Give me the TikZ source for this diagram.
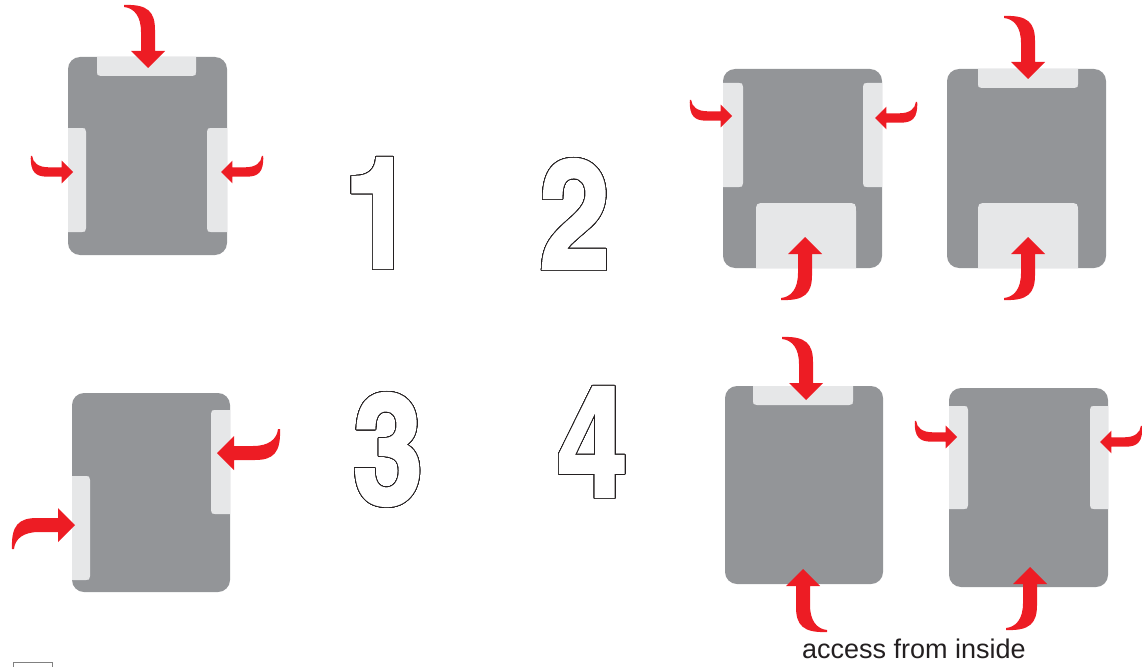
\documentclass[tikz,border=0pt]{standalone}
\usepackage{tikz}
\usepackage{fontspec}
\usepackage{contour}
\contourlength{0.8pt}
\contournumber{48}
\setmainfont{Liberation Sans}
\newfontfamily\digitfont{texgyreheroscn-bold.otf}[FakeBold=1.5]
\definecolor{boxgray}{HTML}{939598}
\definecolor{tabgray}{HTML}{E6E7E8}
\definecolor{arrowred}{HTML}{ED1C24}
\definecolor{inkgray}{HTML}{231F20}
\begin{document}
\begin{tikzpicture}[x=1pt, y=-1pt,
    block/.style={fill=boxgray, rounded corners=12pt},
    tab/.style={fill=tabgray},
    digit/.style={inner sep=0pt, anchor=base, text=white, font=\digitfont\fontsize{155}{155}\selectfont},
    redarrow/.pic={\fill[arrowred] (0,0) -- (-17,-17) -- (-7,-17) -- (-7,-36)
        .. controls (-7,-52) and (-14,-60) .. (-24,-61) -- (-24,-63)
        .. controls (0,-64) and (7,-56) .. (7,-38) -- (7,-17) -- (17,-17) -- cycle;}]
    \useasboundingbox (0,0) rectangle (1142,666);

    % Khối 1
    \fill[block] (68,57) rectangle (227,255);
    \fill[tab] (97,57) -- (97,72) .. controls (97,75) .. (101,76) -- (192,76) .. controls (196,75) .. (196,72) -- (196,57) -- cycle;
    \fill[tab] (68,128) -- (82,128) .. controls (85,128) .. (86,132) -- (86,228) .. controls (85,232) .. (82,232) -- (68,232) -- cycle;
    \fill[tab] (227,128) -- (211,128) .. controls (208,128) .. (207,132) -- (207,228) .. controls (208,232) .. (211,232) -- (227,232) -- cycle;
    \pic at (148,68) {redarrow};
    \pic[rotate=90, xscale=-1, scale=0.67] at (73,172) {redarrow};
    \pic[rotate=-90, scale=0.67] at (221,172) {redarrow};

    % Khối 2 trái
    \fill[block] (723,69) rectangle (882,268);
    \fill[tab] (723,83) -- (739,83) .. controls (742,83) .. (743,87) -- (743,183) .. controls (742,187) .. (739,187) -- (723,187) -- cycle;
    \fill[tab] (882,83) -- (867,83) .. controls (864,83) .. (863,87) -- (863,183) .. controls (864,187) .. (867,187) -- (882,187) -- cycle;
    \fill[tab] (756,268) -- (756,213) .. controls (756,203) .. (766,203) -- (846,203) .. controls (856,203) .. (856,213) -- (856,268) -- cycle;
    \pic[rotate=90, xscale=-1, scale=0.67] at (732,116) {redarrow};
    \pic[rotate=-90, scale=0.67] at (875,118) {redarrow};
    \pic[yscale=-1] at (805,237) {redarrow};

    % Khối 2 phải
    \fill[block] (947,69) rectangle (1106,268);
    \fill[tab] (978,69) -- (978,84) .. controls (978,87) .. (982,88) -- (1074,88) .. controls (1078,87) .. (1078,84) -- (1078,69) -- cycle;
    \fill[tab] (978,268) -- (978,213) .. controls (978,203) .. (988,203) -- (1068,203) .. controls (1078,203) .. (1078,213) -- (1078,268) -- cycle;
    \pic at (1028,79) {redarrow};
    \pic[yscale=-1] at (1028,237) {redarrow};

    % Khối 3
    \fill[block] (72,393) rectangle (230,592);
    \fill[tab] (72,476) -- (86,476) .. controls (89,476) .. (90,480) -- (90,576) .. controls (89,580) .. (86,580) -- (72,580) -- cycle;
    \fill[tab] (230,410) -- (215,410) .. controls (212,410) .. (211,414) -- (211,510) .. controls (212,514) .. (215,514) -- (230,514) -- cycle;
    \pic[rotate=-90] at (217,453) {redarrow};
    \pic[rotate=90] at (75,525) {redarrow};

    % Khối 4 trái
    \fill[block] (725,386) rectangle (883,584);
    \fill[tab] (753,386) -- (753,401) .. controls (753,404) .. (757,405) -- (849,405) .. controls (853,404) .. (853,401) -- (853,386) -- cycle;
    \pic at (806,400) {redarrow};
    \pic[rotate=180] at (803,569) {redarrow};

    % Khối 4 phải
    \fill[block] (949,388) rectangle (1108,587);
    \fill[tab] (949,406) -- (964,406) .. controls (967,406) .. (968,410) -- (968,505) .. controls (967,509) .. (964,509) -- (949,509) -- cycle;
    \fill[tab] (1108,406) -- (1094,406) .. controls (1091,406) .. (1090,410) -- (1090,505) .. controls (1091,509) .. (1094,509) -- (1108,509) -- cycle;
    \pic[rotate=90, xscale=-1, scale=0.67] at (957,437) {redarrow};
    \pic[rotate=-90, scale=0.67] at (1100,442) {redarrow};
    \pic[yscale=-1] at (1030,567) {redarrow};

    % Chữ số
    \node[digit] (num1) at (379,268) {\contour{inkgray}{1}};
    \node[digit] (num2) at (575,269) {\contour{inkgray}{2}};
    \node[digit] (num3) at (388,503) {\contour{inkgray}{3}};
    \node[digit] (num4) at (592,497) {\contour{inkgray}{4}};

    % Chú thích
    \node[font=\fontsize{27}{30}\selectfont, text=inkgray, anchor=base] (caption) at (914,658) {access from inside};

    % Ô nhỏ góc dưới
    \draw[gray, line width=1pt] (13,662) rectangle (52,690);
\end{tikzpicture}
\end{document}
